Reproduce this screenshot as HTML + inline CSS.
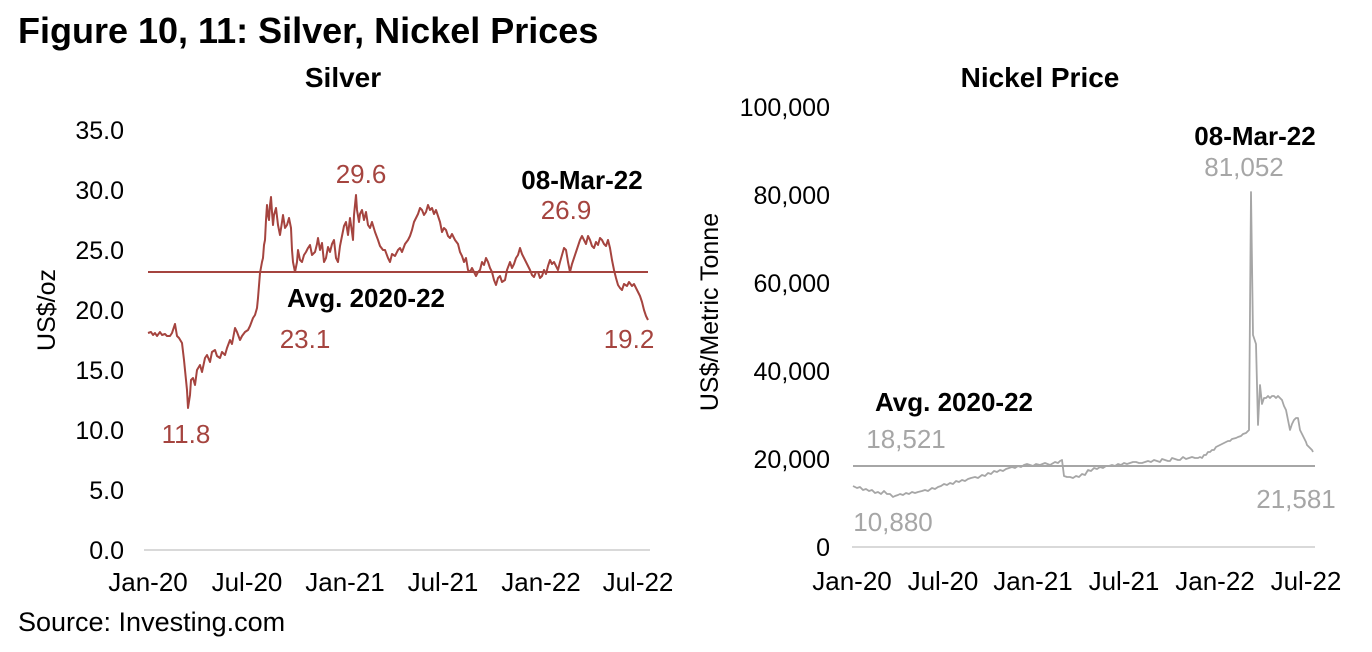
<!DOCTYPE html>
<html><head><meta charset="utf-8"><style>
html,body{margin:0;padding:0;background:#fff;}
svg{display:block;font-family:"Liberation Sans",Arial,sans-serif;}
</style></head><body>
<svg width="1372" height="652" viewBox="0 0 1372 652" xmlns="http://www.w3.org/2000/svg">
<text x="18" y="43" font-size="36" font-weight="bold" fill="#000">Figure 10, 11: Silver, Nickel Prices</text>
<text x="18" y="631" font-size="27" fill="#000">Source: Investing.com</text>

<!-- Silver -->
<text x="343" y="87" font-size="28" font-weight="bold" text-anchor="middle">Silver</text>
<g font-size="25" fill="#000" text-anchor="end">
<text x="124" y="139">35.0</text><text x="124" y="199">30.0</text><text x="124" y="259">25.0</text>
<text x="124" y="319">20.0</text><text x="124" y="379">15.0</text><text x="124" y="439">10.0</text>
<text x="124" y="499">5.0</text><text x="124" y="559">0.0</text>
</g>
<text transform="translate(55,310) rotate(-90)" font-size="25" text-anchor="middle">US$/oz</text>
<line x1="144" y1="550" x2="650" y2="550" stroke="#d9d9d9" stroke-width="2"/>
<g font-size="26" text-anchor="middle">
<text x="148" y="591">Jan-20</text><text x="247" y="591">Jul-20</text><text x="345" y="591">Jan-21</text>
<text x="443" y="591">Jul-21</text><text x="541" y="591">Jan-22</text><text x="638" y="591">Jul-22</text>
</g>
<line x1="148" y1="272" x2="648" y2="272" stroke="#a5443f" stroke-width="2"/>
<polyline fill="none" stroke="#a5443f" stroke-width="2" stroke-linejoin="round" points="148,333 151,332 153,335 155,333 157,336 160,332 162,335 165,334 167,336 170,336 172,333 175,324 177,336 179,338 182,343 184,360 185,370 187,390 188,408 190,395 191,380 193,378 195,385 197,370 200,365 202,372 205,358 207,355 210,362 212,352 215,350 217,356 220,358 222,352 225,355 227,348 230,340 232,344 235,328 237,332 240,340 242,336 245,332 248,330 250,326 253,318 255,315 257,308 258,298 260,273 262,262 263,258 264,245 265,240 266,220 267,205 268,215 269,220 270,205 271,197 272,212 273,225 274,215 276,208 278,225 280,235 282,222 283,215 285,228 287,225 289,218 291,228 292,250 293,262 295,272 297,262 298,250 300,260 302,262 304,255 306,252 308,248 310,245 312,255 315,252 317,244 318,238 320,250 322,243 324,262 326,258 328,247 330,252 332,244 334,240 336,258 338,262 340,246 342,236 344,226 346,222 348,235 350,218 352,232 353,240 354,215 356,195 357,210 359,222 360,214 362,210 364,220 366,212 368,225 370,228 372,222 375,232 378,240 380,246 383,250 385,250 388,258 390,262 392,254 395,256 398,250 400,248 402,252 405,244 408,240 410,236 412,230 414,222 416,218 418,214 420,208 422,210 424,215 426,212 428,205 430,210 432,208 434,214 436,210 438,216 440,222 442,232 444,228 446,230 448,236 450,238 452,234 455,240 458,244 460,252 462,256 464,262 466,258 468,270 470,272 472,268 474,272 476,276 478,272 480,270 482,262 484,265 486,258 488,262 490,268 492,272 494,280 496,285 498,278 500,276 502,282 505,280 507,270 510,262 512,268 514,264 516,258 518,255 520,248 522,254 524,258 526,262 528,266 530,270 532,275 534,277 536,272 538,272 540,278 542,276 544,270 546,274 548,266 550,260 552,264 554,262 556,266 558,270 560,262 562,255 564,248 566,250 568,262 570,272 572,264 574,258 576,252 578,246 580,240 582,236 584,240 586,244 588,236 590,240 592,246 594,248 596,242 598,245 600,238 602,240 604,244 606,246 608,240 610,248 612,260 614,270 616,278 618,285 620,288 622,290 624,284 627,286 629,282 632,286 634,284 636,288 638,292 640,296 642,302 644,310 646,316 648,320"/>
<g font-size="26" fill="#a5443f" text-anchor="middle">
<text x="186" y="443">11.8</text><text x="361" y="183">29.6</text><text x="566" y="219">26.9</text>
<text x="305" y="348">23.1</text><text x="629" y="348">19.2</text>
</g>
<text x="582" y="189" font-size="26" font-weight="bold" text-anchor="middle">08-Mar-22</text>
<text x="366" y="307" font-size="26" font-weight="bold" text-anchor="middle">Avg. 2020-22</text>

<!-- Nickel -->
<text x="1040" y="87" font-size="28" font-weight="bold" text-anchor="middle">Nickel Price</text>
<g font-size="25" fill="#000" text-anchor="end">
<text x="830" y="116">100,000</text><text x="830" y="204">80,000</text><text x="830" y="292">60,000</text>
<text x="830" y="380">40,000</text><text x="830" y="468">20,000</text><text x="830" y="556">0</text>
</g>
<text transform="translate(718,312) rotate(-90)" font-size="25" text-anchor="middle">US$/Metric Tonne</text>
<line x1="852" y1="547" x2="1315" y2="547" stroke="#d9d9d9" stroke-width="2"/>
<g font-size="26" text-anchor="middle">
<text x="852" y="590">Jan-20</text><text x="943" y="590">Jul-20</text><text x="1033" y="590">Jan-21</text>
<text x="1124" y="590">Jul-21</text><text x="1215" y="590">Jan-22</text><text x="1306" y="590">Jul-22</text>
</g>
<line x1="853" y1="466" x2="1315" y2="466" stroke="#a6a6a6" stroke-width="2"/>
<polyline fill="none" stroke="#a6a6a6" stroke-width="1.8" stroke-linejoin="round" points="853,486 857,488 860,487 863,490 866,489 869,491 872,490 875,493 878,492 881,494 884,491 887,494 890,494 893,497 895,496 898,495 900,494 903,495 906,493 909,494 912,492 915,493 918,492 922,491 925,490 928,491 932,488 935,489 938,487 941,486 944,484 947,485 950,483 953,484 956,481 959,482 962,480 965,481 968,479 971,478 975,477 978,478 982,475 985,476 988,473 991,474 994,471 997,472 1000,470 1003,471 1006,469 1009,468 1012,467 1015,468 1018,466 1021,467 1024,465 1027,464 1030,465 1033,466 1036,464 1040,465 1045,463 1050,465 1055,462 1058,463 1060,461 1062,460 1064,476 1067,477 1070,477 1073,478 1076,476 1079,477 1082,474 1085,475 1088,470 1091,471 1094,468 1097,469 1100,467 1103,468 1106,466 1109,466 1112,465 1115,466 1118,464 1121,465 1124,463 1127,464 1130,463 1133,462 1136,462 1139,463 1142,463 1145,462 1148,461 1151,462 1154,460 1157,461 1160,462 1162,459 1165,460 1168,461 1170,461 1172,458 1175,459 1178,460 1180,460 1183,457 1186,459 1189,458 1192,457 1195,458 1198,458 1200,457 1202,458 1204,455 1206,455 1208,452 1210,452 1212,450 1214,450 1216,447 1218,446 1220,445 1222,444 1224,443 1226,442 1228,441 1230,441 1232,439 1236,438 1238,437 1241,436 1243,434 1246,433 1249,430 1251,192 1253,335 1256,344 1258,425 1260,385 1262,404 1264,398 1266,398 1268,396 1270,398 1272,396 1274,396 1276,398 1278,396 1280,398 1282,400 1284,406 1286,410 1288,420 1290,430 1292,424 1294,420 1296,418 1298,418 1300,430 1302,434 1304,438 1306,442 1307,445 1309,447 1310,448 1312,450 1313,452"/>
<g font-size="26" fill="#a6a6a6" text-anchor="middle">
<text x="1244" y="176">81,052</text><text x="906" y="448">18,521</text>
<text x="893" y="531">10,880</text><text x="1296" y="508">21,581</text>
</g>
<text x="1255" y="145" font-size="26" font-weight="bold" text-anchor="middle">08-Mar-22</text>
<text x="954" y="411" font-size="26" font-weight="bold" text-anchor="middle">Avg. 2020-22</text>
</svg>
</body></html>
